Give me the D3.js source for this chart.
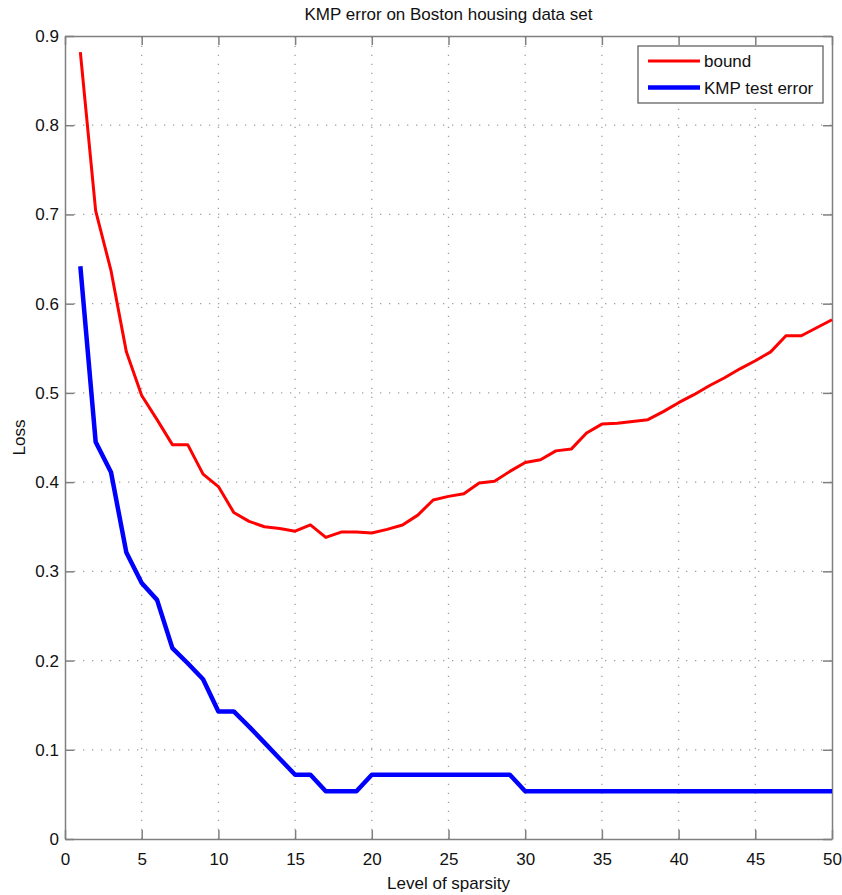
<!DOCTYPE html>
<html>
<head>
<meta charset="utf-8">
<script src="https://cdn.jsdelivr.net/npm/d3@7"></script>
<style>
  html, body { margin: 0; padding: 0; background: #fff; }
  svg { display: block; font-family: "Liberation Sans", Arial, Helvetica, sans-serif; }
</style>
</head>
<body>
<svg id="chart" width="842" height="895"></svg>
<script>
// Sparsity levels (number of basis functions kept)
const sparsity = d3.range(1, 51);

// Generalisation bound for each sparsity level
const boundValues = [
  0.882, 0.704, 0.637, 0.546, 0.497, 0.470, 0.442, 0.442, 0.409, 0.395,
  0.366, 0.356, 0.350, 0.348, 0.345, 0.352, 0.338, 0.344, 0.344, 0.343,
  0.347, 0.352, 0.363, 0.380, 0.384, 0.387, 0.399, 0.401, 0.412, 0.422,
  0.425, 0.435, 0.437, 0.455, 0.465, 0.466, 0.468, 0.470, 0.479, 0.489,
  0.498, 0.508, 0.517, 0.527, 0.536, 0.546, 0.564, 0.564, 0.573, 0.582
];

// KMP test error for each sparsity level
const testErrorValues = [
  0.642, 0.445, 0.411, 0.321, 0.287, 0.268, 0.214, 0.197, 0.179, 0.143,
  0.143, 0.126, 0.108, 0.090, 0.072, 0.072, 0.0535, 0.0535, 0.0535, 0.072,
  0.072, 0.072, 0.072, 0.072, 0.072, 0.072, 0.072, 0.072, 0.072, 0.0535,
  0.0535, 0.0535, 0.0535, 0.0535, 0.0535, 0.0535, 0.0535, 0.0535, 0.0535, 0.0535,
  0.0535, 0.0535, 0.0535, 0.0535, 0.0535, 0.0535, 0.0535, 0.0535, 0.0535, 0.0535
];

const xTicks = [0, 5, 10, 15, 20, 25, 30, 35, 40, 45, 50];
const yTicks = [0, 0.1, 0.2, 0.3, 0.4, 0.5, 0.6, 0.7, 0.8, 0.9];

const seriesNames = ["bound", "KMP test error"];
const seriesColors = ["#ff0000", "#0000ff"];
const seriesWidths = [3, 4.5];

const titleText = "KMP error on Boston housing data set";
const xLabelText = "Level of sparsity";
const yLabelText = "Loss";

const margin = { left: 65, right: 10, top: 36, bottom: 56 };
const W = 842, H = 895;
const svg = d3.select("#chart");

const x = d3.scaleLinear().domain([0, 50]).range([margin.left, W - margin.right]);
const y = d3.scaleLinear().domain([0, 0.9]).range([H - margin.bottom, margin.top]);

const axisColor = "#7f7f7f";
const textColor = "#111";
const fontSize = 17;
const tickLen = 9;

// Dotted grid
const grid = svg.append("g");
grid.selectAll("line.vg").data(xTicks.slice(1, -1)).join("line")
  .attr("x1", d => x(d)).attr("x2", d => x(d))
  .attr("y1", y(0)).attr("y2", y(0.9))
  .attr("stroke", "#a0a0a0").attr("stroke-width", 1.3)
  .attr("stroke-dasharray", "1.3 7.7");
grid.selectAll("line.hg").data(yTicks.slice(1, -1)).join("line")
  .attr("x1", x(0)).attr("x2", x(50))
  .attr("y1", d => y(d)).attr("y2", d => y(d))
  .attr("stroke", "#a0a0a0").attr("stroke-width", 1.3)
  .attr("stroke-dasharray", "1.3 7.7");

// Axes with inward ticks on all four sides
function styleAxis(g) {
  g.select(".domain").attr("stroke", axisColor).attr("stroke-width", 1.5);
  g.selectAll(".tick line").attr("stroke", axisColor).attr("stroke-width", 1.5);
  g.selectAll(".tick text").attr("fill", textColor).attr("font-size", fontSize)
    .attr("font-family", "'Liberation Sans', Arial, sans-serif");
}

svg.append("g")
  .attr("transform", `translate(0,${y(0)})`)
  .call(d3.axisBottom(x).tickValues(xTicks).tickFormat(d3.format("d"))
    .tickSizeInner(-tickLen).tickSizeOuter(0).tickPadding(14))
  .call(styleAxis);

svg.append("g")
  .attr("transform", `translate(0,${y(0.9)})`)
  .call(d3.axisTop(x).tickValues(xTicks).tickFormat("")
    .tickSizeInner(-tickLen).tickSizeOuter(0))
  .call(styleAxis);

svg.append("g")
  .attr("transform", `translate(${x(0)},0)`)
  .call(d3.axisLeft(y).tickValues(yTicks).tickFormat(d => d === 0 ? "0" : d3.format(".1f")(d))
    .tickSizeInner(-tickLen).tickSizeOuter(0).tickPadding(6))
  .call(styleAxis);

svg.append("g")
  .attr("transform", `translate(${x(50)},0)`)
  .call(d3.axisRight(y).tickValues(yTicks).tickFormat("")
    .tickSizeInner(-tickLen).tickSizeOuter(0))
  .call(styleAxis);

// Series lines
const line = d3.line().x((d, i) => x(sparsity[i])).y(d => y(d));
const allSeries = [boundValues, testErrorValues];
svg.append("g").selectAll("path").data(allSeries).join("path")
  .attr("d", d => line(d))
  .attr("fill", "none")
  .attr("stroke", (d, i) => seriesColors[i])
  .attr("stroke-width", (d, i) => seriesWidths[i])
  .attr("stroke-linejoin", "round");

// Title and axis labels
svg.append("text")
  .attr("x", (x(0) + x(50)) / 2).attr("y", 20)
  .attr("text-anchor", "middle").attr("font-size", fontSize).attr("fill", textColor)
  .text(titleText);

svg.append("text")
  .attr("x", (x(0) + x(50)) / 2).attr("y", 889)
  .attr("text-anchor", "middle").attr("font-size", fontSize).attr("fill", textColor)
  .text(xLabelText);

svg.append("text")
  .attr("transform", `translate(25,${(y(0) + y(0.9)) / 2}) rotate(-90)`)
  .attr("text-anchor", "middle").attr("font-size", fontSize).attr("fill", textColor)
  .text(yLabelText);

// Legend
const legend = svg.append("g");
legend.append("rect")
  .attr("x", 638).attr("y", 46).attr("width", 185).attr("height", 57)
  .attr("fill", "#fff").attr("stroke", "#555").attr("stroke-width", 1.2);
const rows = legend.selectAll("g.row").data(seriesNames).join("g")
  .attr("transform", (d, i) => `translate(0,${61 + i * 26.5})`);
rows.append("line")
  .attr("x1", 648).attr("x2", 700).attr("y1", 0).attr("y2", 0)
  .attr("stroke", (d, i) => seriesColors[i])
  .attr("stroke-width", (d, i) => seriesWidths[i]);
rows.append("text")
  .attr("x", 704).attr("y", 6)
  .attr("font-size", fontSize).attr("fill", textColor)
  .text(d => d);
</script>
</body>
</html>
